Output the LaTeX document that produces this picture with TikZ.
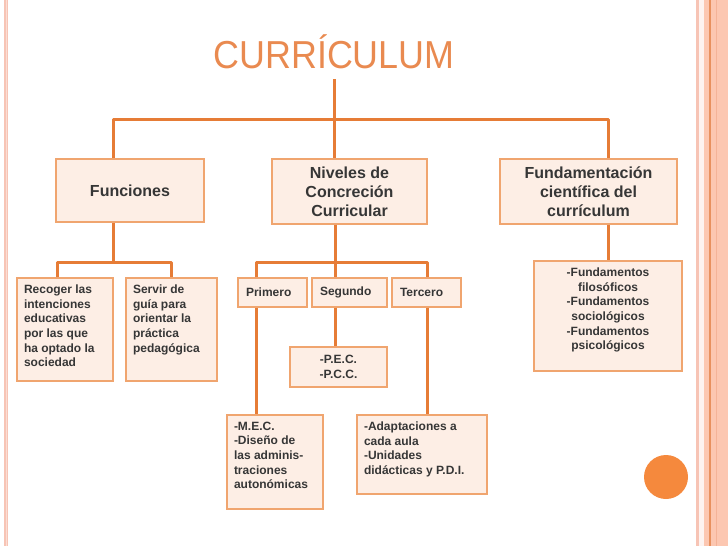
\documentclass[tikz,border=0pt]{standalone}
\usepackage{fontspec}
\setmainfont{Liberation Sans}
\definecolor{linec}{HTML}{E67C36}
\definecolor{boxc}{HTML}{F0A56F}
\definecolor{fillc}{HTML}{FDEEE5}
\definecolor{txt}{HTML}{363636}
\definecolor{titlec}{HTML}{E98A50}
\definecolor{circc}{HTML}{F5893D}
\definecolor{stripe}{HTML}{F7C4B5}
\definecolor{stripel}{HTML}{FBDDD3}
\definecolor{salmon}{HTML}{FCC7B1}
\definecolor{rline}{HTML}{E8915F}
\definecolor{rline2}{HTML}{F4B398}
\newcommand{\tbx}[4]{\begin{minipage}[c][#2pt][t]{#1pt}#3#4\end{minipage}}
\begin{document}
\begin{tikzpicture}[x=1pt,y=-1pt,
  box/.style={draw=boxc, fill=fillc, line width=1.2pt, inner sep=0pt, text=txt},
  big/.style={box, font=\fontsize{16}{19}\selectfont\bfseries, align=center},
  small/.style={box, font=\fontsize{12}{14.6}\selectfont\bfseries},
  lvl/.style={small, minimum height=29pt, inner xsep=8pt, align=left},
  tpad/.style={inner xsep=7pt, inner ysep=7pt},
  conn/.style={draw=linec, line width=3pt, line join=round}]
\useasboundingbox (0,0) rectangle (728,546);
% page borders
\fill[stripe] (4,0) rectangle (8,546);
\fill[stripel] (5.5,0) rectangle (6.5,546);
\fill[stripe] (696,0) rectangle (699,546);
\fill[white!80!stripe] (699,0) rectangle (704,546);
\fill[salmon] (704,0) rectangle (728,546);
\fill[rline] (709,0) rectangle (710.5,546);
\fill[rline2] (716,0) rectangle (717,546);
% title
\node[anchor=base, inner sep=0pt, text=titlec] (title) at (334,68)
  {\scalebox{0.92}[1]{\fontsize{39}{39}\selectfont CURRÍCULUM}};
% level 1 boxes
\node[big, minimum width=148pt, minimum height=63pt] (funciones) at (130,190.5) {Funciones};
\node[big, minimum width=155pt, minimum height=65pt] (niveles) at (349.5,191.5) {Niveles de\\Concreción\\Curricular};
\node[big, minimum width=177pt, minimum height=65pt] (fundam) at (588.5,191.5) {Fundamentación\\científica del\\currículum};
% level 2 boxes
\node[small, tpad] (recoger) at (65,329.5) {\tbx{82}{89}{\raggedright}{Recoger las\\intenciones\\educativas\\por las que\\ha optado la\\sociedad}};
\node[small, tpad] (servir) at (171.5,329.5) {\tbx{77}{89}{\raggedright}{Servir de\\guía para\\orientar la\\práctica\\pedagógica}};
\node[lvl, text width=53pt] (primero) at (272.5,292.5) {Primero};
\node[lvl, text width=59pt] (segundo) at (349.5,292.5) {Segundo};
\node[lvl, text width=53pt] (tercero) at (426.5,292.5) {Tercero};
\node[small, align=center, minimum width=97pt, minimum height=40pt] (pec) at (338.5,367) {-P.E.C.\\-P.C.C.};
\node[small, tpad] (fundamentos) at (608,316) {\tbx{134}{96}{\centering}{-Fundamentos\\filosóficos\\-Fundamentos\\sociológicos\\-Fundamentos\\psicológicos}};
\node[small, tpad] (mec) at (275,462) {\tbx{82}{80}{\raggedright}{-M.E.C.\\-Diseño de\\las adminis-\\traciones\\autonómicas}};
\node[small, tpad] (adapt) at (422,454.5) {\tbx{116}{65}{\raggedright}{-Adaptaciones a\\cada aula\\-Unidades\\didácticas y P.D.I.}};
% junctions
\coordinate (j0) at (334,119);
\coordinate (jl) at (113,119);
\coordinate (jr) at (608,119);
\coordinate (fa) at (113,262);
\coordinate (fl) at (57,262);
\coordinate (fr) at (171,262);
\coordinate (na) at (335,262);
\coordinate (nl) at (256,262);
\coordinate (nr) at (427,262);
% connectors
\draw[conn] ([yshift=-11pt]title.base) -- (j0);
\draw[conn] (jl |- funciones.north) -- (jl) -- (jr) -- (jr |- fundam.north);
\draw[conn] (j0) -- (j0 |- niveles.north);
\draw[conn] (fa |- funciones.south) -- (fa);
\draw[conn] (fl |- recoger.north) -- (fl) -- (fr) -- (fr |- servir.north);
\draw[conn] (na |- niveles.south) -- (na);
\draw[conn] (nl |- primero.north) -- (nl) -- (nr) -- (nr |- tercero.north);
\draw[conn] (na) -- (na |- segundo.north);
\draw[conn] (na |- segundo.south) -- (na |- pec.north);
\draw[conn] (nl |- primero.south) -- (nl |- mec.north);
\draw[conn] (nr |- tercero.south) -- (nr |- adapt.north);
\draw[conn] (fundam.south -| jr) -- (fundamentos.north -| jr);
% decoration dot
\fill[circc] (666,477) circle (22pt);
\end{tikzpicture}
\end{document}
